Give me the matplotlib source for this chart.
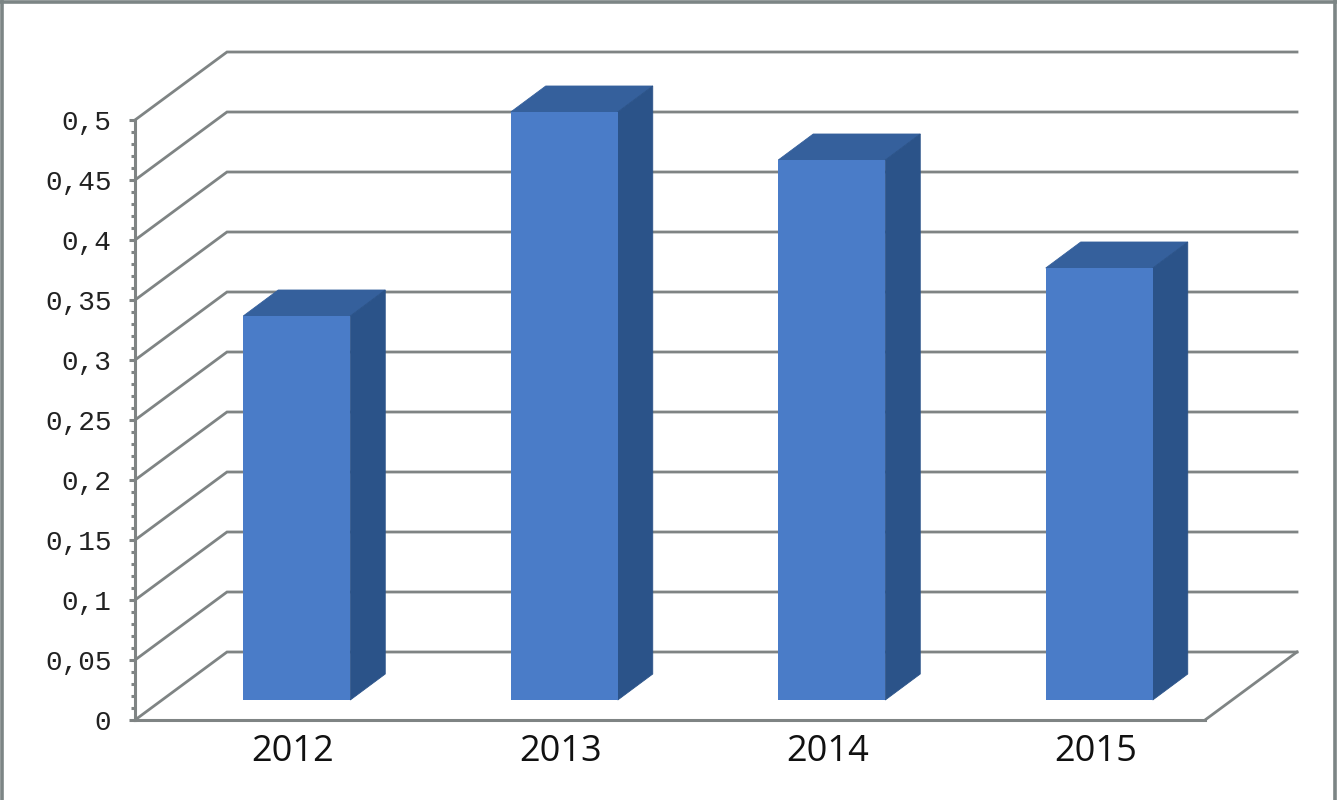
import matplotlib
matplotlib.use("Agg")
import matplotlib.pyplot as plt
from matplotlib.patches import Polygon
from matplotlib.lines import Line2D
from matplotlib.ticker import MultipleLocator

# values
years = ["2012", "2013", "2014", "2015"]
values = [0.32, 0.49, 0.45, 0.36]
y_ticks = [0, 0.05, 0.1, 0.15, 0.2, 0.25, 0.3, 0.35, 0.4, 0.45, 0.5]
y_labels = ["0", "0,05", "0,1", "0,15", "0,2", "0,25", "0,3", "0,35", "0,4", "0,45", "0,5"]

GRID = "#7f8484"
FRAME = "#7c8585"

fig = plt.figure(figsize=(13.37, 8), dpi=100)
ax = fig.add_axes([135 / 1337, 80 / 800, 1070 / 1337, 600 / 800])
ax.set_xlim(-0.5, 3.5)
ax.set_ylim(0, 0.5)

# fake 3d depth, in data units
wall_dx = 92 / 267.5
wall_dy = 68 / 1200
bar_off_x = 28 / 267.5
bar_off_y = 20 / 1200
bar_dx = 35 / 267.5
bar_dy = 26 / 1200
bar_w = 107 / 267.5
label_off_x = 24 / 267.5

# walls
for t in y_ticks:
    ax.plot([-0.5, -0.5 + wall_dx, 3.5 + wall_dx], [t, t + wall_dy, t + wall_dy],
            color=GRID, lw=2, clip_on=False, zorder=1, solid_joinstyle="miter")
# floor, right edge
ax.plot([3.5, 3.5 + wall_dx], [0, wall_dy], color=GRID, lw=2, clip_on=False, zorder=1)

# bars
for i, v in enumerate(values):
    x0 = i - bar_w / 2 + bar_off_x
    x1 = x0 + bar_w
    y0 = bar_off_y
    y1 = y0 + v
    ax.add_patch(Polygon([(x0, y1), (x1, y1), (x1 + bar_dx, y1 + bar_dy), (x0 + bar_dx, y1 + bar_dy)],
                         fc="#35609c", ec="#35609c", lw=0.6, clip_on=False, zorder=3))
    ax.add_patch(Polygon([(x1, y0), (x1 + bar_dx, y0 + bar_dy), (x1 + bar_dx, y1 + bar_dy), (x1, y1)],
                         fc="#2b5389", ec="#2b5389", lw=0.6, clip_on=False, zorder=3))
    ax.bar(i + bar_off_x, v, bar_w, bottom=y0, color="#4a7cc8", zorder=4, clip_on=False)

for s in ["top", "right"]:
    ax.spines[s].set_visible(False)
for s in ["left", "bottom"]:
    ax.spines[s].set_color(GRID)
    ax.spines[s].set_linewidth(2.2)

ax.set_yticks(y_ticks)
ax.set_yticklabels(y_labels, family="Liberation Mono", fontsize=20, color="#222222")
ax.yaxis.set_minor_locator(MultipleLocator(0.01))
ax.tick_params(axis="y", which="major", length=4, width=2.2, color=GRID, pad=13)
ax.tick_params(axis="y", which="minor", length=3, width=2.2, color=GRID)

ax.set_xticks([i + label_off_x for i in range(len(years))])
ax.set_xticklabels(years, family="Open Sans", fontsize=26, color="#111111")
ax.tick_params(axis="x", length=0, pad=10)

# window frame on top, left and right
fig.add_artist(Line2D([0, 1], [0.998, 0.998], color=FRAME, lw=2.6, transform=fig.transFigure))
fig.add_artist(Line2D([0.0012, 0.0012], [0, 1], color=FRAME, lw=2.6, transform=fig.transFigure))
fig.add_artist(Line2D([0.9985, 0.9985], [0, 1], color=FRAME, lw=2.6, transform=fig.transFigure))

fig.savefig("out.png", dpi=100)
